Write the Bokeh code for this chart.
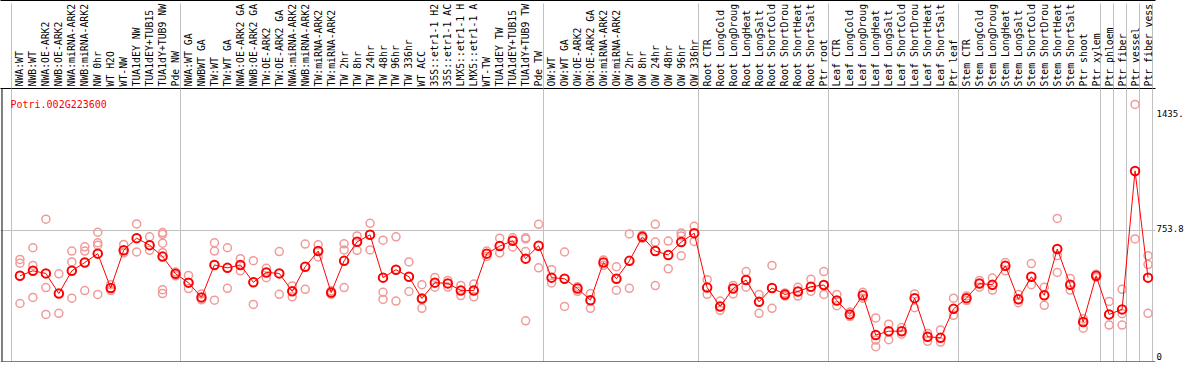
from math import pi
from bokeh.plotting import figure
from bokeh.models import ColumnDataSource, FixedTicker, LinearAxis, Range1d, Grid, Span, Label
from bokeh.embed import file_html
from bokeh.resources import INLINE

gene_id = "Potri.002G223600"

categories = [
    "NWA:WT", "NWB:WT", "NWA:OE-ARK2", "NWB:OE-ARK2", "NWA:miRNA-ARK2", "NWB:miRNA-ARK2",
    "NW 0hr", "WT H2O", "WT-NW", "TUA1dEY NW", "TUA1dEY+TUB15 NW", "TUA1dY+TUB9 NW", "Pde NW",
    "NWA:WT GA", "NWBWT GA", "TW:WT", "TW:WT GA", "NWA:OE-ARK2 GA", "NWB:OE-ARK2 GA",
    "TW:OE-ARK2", "TW:OE-ARK2 GA", "NWA:miRNA-ARK2", "NWB:miRNA-ARK2", "TW:miRNA-ARK2",
    "TW:miRNA-ARK2", "TW 2hr", "TW 8hr", "TW 24hr", "TW 48hr", "TW 96hr", "TW 336hr",
    "WT ACC", "35S::etr1-1 H2O", "35S::etr1-1 ACC", "LMX5::etr1-1 H2O", "LMX5::etr1-1 ACC",
    "WT-TW", "TUA1dEY TW", "TUA1dEY+TUB15 TW", "TUA1dY+TUB9 TW", "Pde TW",
    "OW:WT", "OW:WT GA", "OW:OE-ARK2", "OW:OE-ARK2 GA", "OW:miRNA-ARK2", "OW:miRNA-ARK2",
    "OW 2hr", "OW 8hr", "OW 24hr", "OW 48hr", "OW 96hr", "OW 336hr",
    "Root CTR", "Root LongCold", "Root LongDrought", "Root LongHeat", "Root LongSalt",
    "Root ShortCold", "Root ShortDrought", "Root ShortHeat", "Root ShortSalt", "Ptr root",
    "Leaf CTR", "Leaf LongCold", "Leaf LongDrought", "Leaf LongHeat", "Leaf LongSalt",
    "Leaf ShortCold", "Leaf ShortDrought", "Leaf ShortHeat", "Leaf ShortSalt", "Ptr leaf",
    "Stem CTR", "Stem LongCold", "Stem LongDrought", "Stem LongHeat", "Stem LongSalt",
    "Stem ShortCold", "Stem ShortDrought", "Stem ShortHeat", "Stem ShortSalt", "Ptr shoot",
    "Ptr xylem", "Ptr phloem", "Ptr fiber", "Ptr vessel", "Ptr fiber vessel",
]

mean_values = [
    507, 534, 520, 411, 534, 579, 627, 441, 645, 711, 673, 611, 518,
    470, 390, 566, 550, 566, 472, 525, 520, 423, 556, 641, 416, 588, 691, 729,
    497, 540, 502, 384, 470, 466, 427, 427, 627, 668, 697, 600, 670,
    497, 491, 438, 375, 579, 491, 588, 718, 641, 620, 690, 738,
    443, 341, 438, 484, 366, 441, 406, 422, 448, 457,
    373, 298, 402, 186, 207, 207, 386, 177, 171, 328,
    386, 465, 459, 561, 380, 502, 402, 652, 459, 257,
    507, 298, 325, 1075, 497,
]

replicate_values = [
    [596, 575, 357], [659, 563, 390], [814, 443, 298], [518, 304], [641, 582, 386],
    [664, 641, 427], [743, 686, 673, 406], [459, 427], [677, 631], [788, 636],
    [718, 645], [741, 732, 684, 632, 432, 411], [507, 527],
    [509, 438], [409, 377], [686, 641, 375], [659, 439], [600, 534], [589, 352],
    [548, 497], [638, 407], [452, 393], [679, 434], [675, 609], [426, 407],
    [680, 647, 443], [723, 645], [791, 647], [700, 418, 379], [718, 370], [582, 422],
    [459, 379, 331], [498, 445], [482, 446], [455, 400], [462, 393], [641, 612],
    [711, 631], [713, 663], [713, 707, 638, 263], [786, 550],
    [540, 468], [636, 341], [448, 423], [411, 331], [593, 564], [556, 429],
    [734, 439], [727, 709], [786, 690, 454], [695, 545], [739, 723, 615], [775, 693],
    [486, 407], [370, 320], [455, 409], [530, 445], [406, 304], [563, 331],
    [414, 397], [445, 397], [488, 423], [530, 406],
    [406, 345], [311, 286], [418, 386], [279, 159, 123], [245, 161], [227, 191],
    [409, 334], [195, 152], [214, 148], [386, 293],
    [373, 398], [482, 445], [495, 430], [579, 534], [406, 361], [573, 459],
    [445, 347], [818, 616, 525], [493, 430], [275, 223],
    [516, 498], [368, 240], [434, 302, 240], [1435, 707], [616, 568, 304],
]

# index of the last category of each block (separator drawn after it); -1 = before the first
group_last = [-1, 12, 40, 52, 62, 72, 83, 84, 85, 86, 87]

y_tick_values = [0, 753.8, 1435]
y_tick_labels = ["0", "753.8", "1435."]

# ---- styling / layout ----
FONT = "DejaVu Sans Mono"
PINK = "#f09a9a"
GRID = "#c0c0c0"
STEP_PX = 13.0        # pixels per category
FIRST_PX = 19.5       # pixel position of the first category inside the frame
FIG_W = 1186
FIG_H = 362
HEADER_H = 85
BOTTOM_B = 1
FRAME_W = 1158
RIGHT_W = FIG_W - FRAME_W
FRAME_H = FIG_H - HEADER_H - BOTTOM_B
PX_PER_UNIT = 0.186654
ZERO_BELOW_FRAME = 8   # the value axis' zero sits just below the visible frame
SEP_OFFSET = 0.37
MAX_LABEL_CHARS = 14

n = len(categories)
xs = list(range(n))
x_start = -FIRST_PX / STEP_PX
x_end = x_start + FRAME_W / STEP_PX
y_start = ZERO_BELOW_FRAME / PX_PER_UNIT
y_end = y_start + FRAME_H / PX_PER_UNIT

p = figure(
    width=FIG_W, height=FIG_H,
    x_range=Range1d(x_start, x_end), y_range=Range1d(y_start, y_end),
    x_axis_location="above", y_axis_location=None,
    output_backend="svg", toolbar_location=None,
    min_border_left=0, min_border_right=RIGHT_W, min_border_top=HEADER_H,
    min_border_bottom=BOTTOM_B,
)
p.outline_line_color = None
p.background_fill_color = "white"
p.border_fill_color = "white"
for g in p.ygrid:
    g.visible = False

sep_ticker = FixedTicker(ticks=xs, minor_ticks=[b + SEP_OFFSET for b in group_last])

xa = p.xaxis[0]
xa.ticker = sep_ticker
xa.major_label_overrides = {i: lab[:MAX_LABEL_CHARS].rstrip() for i, lab in enumerate(categories)}
xa.major_label_orientation = pi / 2
xa.major_tick_in = 0
xa.major_tick_out = 0
xa.minor_tick_in = 0
xa.minor_tick_out = HEADER_H
xa.minor_tick_line_color = GRID
xa.axis_line_color = "black"
# the separator ticks reach the top of the header; pull the labels back down to the axis line
xa.major_label_standoff = 2 - HEADER_H
xa.major_label_text_font = FONT
xa.major_label_text_font_size = "9.8px"
xa.major_label_text_color = "black"

# an empty axis stacked on top: only its line, which closes the box at the top edge
top_rule = LinearAxis(
    ticker=FixedTicker(ticks=[]), axis_line_color="black",
    major_tick_in=0, major_tick_out=0, minor_tick_in=0, minor_tick_out=0,
    major_label_standoff=0, major_label_text_font_size="0px",
)
p.add_layout(top_rule, "above")

p.xgrid.ticker = sep_ticker
p.xgrid.grid_line_color = None
p.xgrid.minor_grid_line_color = GRID

p.add_layout(Grid(dimension=1, ticker=FixedTicker(ticks=[y_tick_values[1]]), grid_line_color=GRID))

# value labels on the right (placed like the original, which nudges them inside the box)
p.extra_y_ranges = {"labels": Range1d(-27.4, 1579.7)}
ya = LinearAxis(
    y_range_name="labels",
    ticker=FixedTicker(ticks=y_tick_values),
    major_label_overrides=dict(zip(y_tick_values, y_tick_labels)),
    axis_line_color=None, major_tick_line_color=None, minor_tick_line_color=None,
    major_tick_in=0, major_tick_out=0, minor_tick_in=0, minor_tick_out=0,
    major_label_standoff=1, major_label_text_font=FONT,
    major_label_text_font_size="9px", major_label_text_color="black",
)
p.add_layout(ya, "right")

# box lines: bottom and left border
p.add_layout(Span(location=y_start, dimension="width", line_color="black", line_width=1))
p.add_layout(Span(location=x_start + 1.5 / STEP_PX, dimension="height", line_color="black", line_width=1))

rep_x = [i for i, reps in enumerate(replicate_values) for _ in reps]
rep_y = [v for reps in replicate_values for v in reps]
rep_src = ColumnDataSource(dict(x=rep_x, y=rep_y))
mean_src = ColumnDataSource(dict(x=xs, y=mean_values))

p.scatter("x", "y", source=rep_src, marker="circle", size=8,
          fill_color=None, line_color=PINK, line_width=1.5)
p.line("x", "y", source=mean_src, line_color="red", line_width=1)
p.scatter("x", "y", source=mean_src, marker="circle", size=8.5,
          fill_color=None, line_color="red", line_width=2)

p.add_layout(Label(x=x_start + 10 / STEP_PX, y=1437, text=gene_id, text_color="red",
                   text_font=FONT, text_font_size="10px",
                   text_align="left", text_baseline="alphabetic"))

open("out.html", "w").write(file_html(p, INLINE))
